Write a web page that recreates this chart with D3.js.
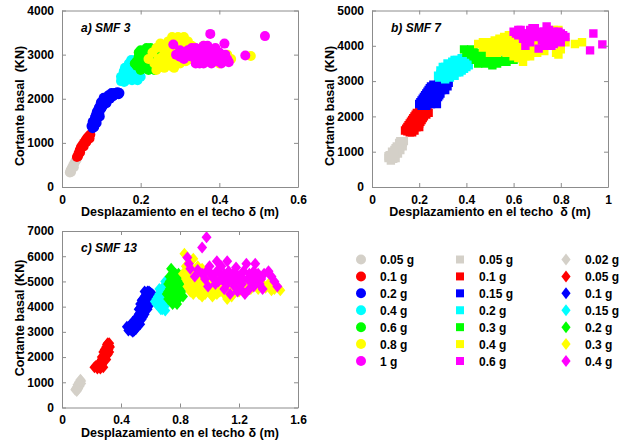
<!DOCTYPE html>
<html>
<head>
<meta charset="utf-8">
<script src="https://cdn.jsdelivr.net/npm/d3@7"></script>
<style>
  html, body { margin: 0; padding: 0; background: #fff; }
  text { font-family: Arial, "Liberation Sans", sans-serif; font-weight: bold; fill: #000; }
</style>
</head>
<body>
<svg id="fig" width="630" height="444"></svg>
<script>
// ---------- SMF 3 (circles) : [desplazamiento (m), cortante (kN)] ----------
const smf3_005 = [[0.020,330],[0.023,340],[0.022,380],[0.025,430],[0.028,480],[0.030,450],[0.031,530],[0.034,580],[0.037,620]];
const smf3_01 = [[0.038,680],[0.041,700],[0.042,760],[0.046,780],[0.045,830],[0.048,900],[0.055,920],[0.052,950],[0.056,1000],[0.062,1020],[0.060,1060],[0.070,1100],[0.064,1110],[0.068,1150],[0.072,1190]];
const smf3_02 = [[0.078,1330],[0.080,1430],[0.085,1500],[0.083,1520],[0.086,1620],[0.092,1620],[0.095,1680],[0.090,1720],[0.100,1780],[0.094,1800],[0.105,1850],[0.098,1870],[0.103,1930],[0.112,1950],[0.108,1980],[0.122,2000],[0.114,2030],[0.130,2060],[0.120,2070],[0.127,2100],[0.134,2130],[0.141,2150],[0.146,2130],
  [0.075,1380],[0.082,1360],[0.088,1450],[0.078,1480],[0.090,1560],[0.084,1580],[0.096,1600],[0.088,1680],[0.097,1760],[0.093,1760],[0.102,1820],[0.099,1920],[0.107,1900],[0.111,2000],[0.116,1990],[0.118,2080],[0.124,2040],[0.126,2130],[0.133,2090],[0.138,2110],[0.144,2100],[0.106,2020],[0.113,1900]];
const smf3_04 = [[0.155,2450],[0.160,2550],[0.165,2480],[0.172,2500],[0.178,2420],[0.170,2600],[0.168,2700],[0.175,2700],[0.182,2550],[0.185,2650],[0.180,2800],[0.190,2750],[0.195,2600],[0.200,2500],
  [0.150,2400],[0.158,2380],[0.163,2420],[0.150,2500],[0.157,2620],[0.163,2650],[0.170,2800],[0.176,2880],[0.185,2870],[0.188,2500],[0.192,2420],[0.167,2560],[0.160,2700]];
const smf3_06 = [[0.185,2800],[0.190,2750],[0.200,2850],[0.195,2950],[0.210,2950],[0.220,3050],[0.200,3100],[0.215,3150],[0.210,2700],[0.220,2650],[0.225,2800],[0.230,2700],[0.235,2900],[0.240,3000],[0.245,2750],[0.250,2850],
  [0.205,3000],[0.213,3100],[0.225,3150],[0.230,3100],[0.190,2850],[0.200,2650],[0.215,2800],[0.230,2900],[0.240,2850],[0.220,2950],[0.195,3050],[0.235,2650]];
const smf3_08 = [[0.220,2900],[0.230,3050],[0.240,3150],[0.250,3250],[0.260,3100],[0.270,3300],[0.280,3400],[0.290,3200],[0.300,3350],[0.310,3400],[0.320,3300],[0.330,3200],[0.250,2800],[0.260,2700],[0.270,2900],[0.280,3000],[0.290,2850],[0.300,2800],[0.310,2950],[0.330,3000],[0.350,2900],[0.370,2850],[0.390,2900],[0.410,2850],[0.420,3000],[0.400,2800],[0.480,2970],[0.240,2650],[0.340,3100],[0.360,3200],[0.380,3100],[0.290,3100],[0.260,3000],
  [0.255,3180],[0.275,3200],[0.285,3300],[0.295,3400],[0.305,3300],[0.315,3250],[0.325,3150],[0.255,2950],[0.265,2850],[0.275,2750],[0.285,2700],[0.295,2950],[0.305,3100],[0.315,2850],[0.325,2900],[0.345,2850],[0.360,2850],[0.380,2900],[0.400,2950],[0.430,2900],[0.270,3050],[0.245,2900],[0.235,2800]];
const smf3_1 = [[0.283,3230],[0.290,3000],[0.300,2950],[0.310,3050],[0.320,3100],[0.330,2950],[0.340,3150],[0.350,3050],[0.360,2900],[0.370,3000],[0.380,3100],[0.390,2950],[0.400,3050],[0.410,2900],[0.350,2800],[0.370,2850],[0.340,2900],[0.320,2980],[0.360,3200],[0.390,3080],[0.377,3470],[0.516,3420],[0.413,3250],[0.466,2980],[0.424,2830],[0.405,2800],[0.330,3150],[0.345,3020],[0.380,2800],[0.395,2850],
  [0.300,3100],[0.310,2900],[0.325,3050],[0.335,3050],[0.345,3100],[0.355,2950],[0.365,3100],[0.375,2950],[0.385,3000],[0.355,3150],[0.370,3200],[0.400,2950],[0.415,3000],[0.360,2800],[0.340,2800],[0.390,3150],[0.420,2900]];

// ---------- SMF 7 (squares) ----------
const smf7_005 = [[0.070,820],[0.090,800],[0.080,850],[0.090,900],[0.075,900],[0.100,950],[0.085,1000],[0.095,1050],[0.110,1050],[0.100,1100],[0.120,1150],[0.105,1150],[0.125,1200],[0.130,1250],[0.115,1250],
  [0.080,750],[0.100,820],[0.110,950],[0.120,1050],[0.130,1150],[0.135,1300],[0.120,1300],[0.085,920],[0.070,870],[0.105,1000],[0.115,1100],[0.095,980]];
const smf7_01 = [[0.160,1550],[0.150,1580],[0.140,1600],[0.180,1600],[0.170,1650],[0.150,1700],[0.190,1700],[0.160,1800],[0.200,1800],[0.180,1800],[0.170,1900],[0.210,1900],[0.180,2000],[0.200,2000],[0.220,2000],[0.230,2050],[0.190,2100],[0.240,2100],[0.200,2150],[0.220,2150],
  [0.145,1650],[0.155,1750],[0.165,1850],[0.175,1950],[0.185,2050],[0.210,2100],[0.225,2100],[0.210,2000],[0.190,1900],[0.165,1700],[0.200,1700],[0.170,1550],[0.190,1800],[0.205,1850],[0.215,1950],[0.235,2150],[0.175,1750],[0.155,1630],[0.185,1700],[0.195,2000]];
const smf7_015 = [[0.230,2300],[0.200,2350],[0.220,2350],[0.250,2350],[0.210,2450],[0.270,2450],[0.240,2500],[0.220,2550],[0.280,2550],[0.260,2600],[0.230,2650],[0.290,2650],[0.240,2750],[0.270,2750],[0.310,2750],[0.300,2800],[0.250,2850],[0.320,2850],[0.260,2900],[0.280,2900],[0.300,2900],
  [0.205,2400],[0.215,2500],[0.225,2600],[0.235,2700],[0.245,2800],[0.255,2750],[0.265,2850],[0.285,2800],[0.295,2750],[0.305,2850],[0.315,2900],[0.260,2700],[0.250,2650],[0.270,2650],[0.280,2700],[0.245,2600],[0.235,2500],[0.230,2400],[0.255,2450],[0.265,2550],[0.285,2600],[0.275,2350],[0.240,2380],[0.210,2300],[0.290,2850],[0.325,2950]];
const smf7_02 = [[0.310,3050],[0.330,3100],[0.280,3150],[0.300,3150],[0.350,3150],[0.330,3200],[0.370,3250],[0.290,3300],[0.320,3300],[0.350,3300],[0.390,3350],[0.300,3400],[0.340,3400],[0.360,3400],[0.380,3450],[0.410,3450],[0.320,3500],[0.340,3550],[0.360,3600],[0.400,3600],[0.380,3650],
  [0.290,3200],[0.310,3250],[0.310,3400],[0.330,3450],[0.350,3500],[0.370,3550],[0.390,3550],[0.400,3500],[0.410,3550],[0.390,3450],[0.370,3350],[0.360,3250],[0.340,3250],[0.320,3150],[0.300,3250],[0.285,3100],[0.350,3600],[0.330,3350],[0.380,3300],[0.400,3400],[0.370,3450],[0.360,3500],[0.340,3150],[0.310,3100]];
const smf7_03 = [[0.390,3900],[0.400,3800],[0.420,3750],[0.430,3850],[0.440,3600],[0.450,3500],[0.470,3550],[0.480,3700],[0.460,3800],[0.440,3700],[0.500,3600],[0.510,3450],[0.530,3500],[0.550,3600],[0.570,3550],[0.590,3650],[0.610,3650],[0.490,3900],[0.520,3700],
  [0.410,3850],[0.420,3900],[0.450,3650],[0.460,3600],[0.470,3700],[0.490,3600],[0.520,3550],[0.540,3550],[0.560,3600],[0.580,3650],[0.600,3600],[0.480,3500],[0.430,3700]];
const smf7_04 = [[0.450,4050],[0.480,4100],[0.500,4000],[0.520,4150],[0.540,4200],[0.560,4250],[0.580,4300],[0.600,4200],[0.550,3900],[0.570,3800],[0.600,3700],[0.620,3650],[0.640,3550],[0.530,3800],[0.580,4000],[0.620,4000],[0.650,3700],[0.680,3900],[0.700,4100],[0.720,4300],[0.750,4400],[0.770,4450],[0.780,3800],[0.800,3900],[0.820,4100],[0.860,4050],[0.890,4100],[0.790,3750],[0.730,3850],[0.760,4100],[0.660,4000],[0.500,3800],[0.470,3950],
  [0.470,4100],[0.490,4050],[0.510,4100],[0.530,4100],[0.550,4150],[0.570,4200],[0.590,4150],[0.610,4100],[0.630,4050],[0.520,3950],[0.540,3850],[0.560,3950],[0.590,3850],[0.610,3850],[0.630,3800],[0.550,4050],[0.570,4050],[0.600,4000],[0.640,3900],[0.660,3850],[0.670,3700],[0.700,3800],[0.720,4000],[0.740,4200],[0.760,4300],[0.780,4350],[0.790,4450],[0.710,4200],[0.690,4050]];
const smf7_06 = [[0.600,4400],[0.620,4300],[0.630,4450],[0.650,4200],[0.660,4350],[0.670,4100],[0.680,4300],[0.690,4500],[0.700,4250],[0.710,4400],[0.720,4150],[0.730,4000],[0.740,4550],[0.750,4200],[0.760,4350],[0.770,4050],[0.780,4250],[0.790,4400],[0.800,4100],[0.810,4300],[0.706,3920],[0.650,4000],[0.938,4350],[0.976,4040],[0.924,3870],[0.680,4500],[0.760,4000],[0.820,4250],
  [0.610,4350],[0.620,4450],[0.640,4350],[0.660,4250],[0.670,4450],[0.690,4350],[0.710,4300],[0.730,4400],[0.750,4450],[0.770,4400],[0.790,4250],[0.800,4350],[0.740,4100],[0.720,4250],[0.640,4200]];

// ---------- SMF 13 (diamonds) ----------
const smf13_002 = [[0.090,700],[0.100,650],[0.100,800],[0.110,900],[0.120,850],[0.120,1000],[0.130,950],[0.130,1050],
  [0.095,750],[0.105,900],[0.115,1000],[0.125,1100],[0.110,750],[0.120,950],[0.105,700]];
const smf13_005 = [[0.220,1600],[0.240,1550],[0.260,1550],[0.280,1600],[0.250,1700],[0.270,1700],[0.260,1800],[0.270,1900],[0.300,1900],[0.280,2000],[0.300,2050],[0.290,2100],[0.300,2200],[0.320,2200],[0.290,2300],[0.310,2350],[0.320,2450],[0.310,2550],
  [0.230,1650],[0.245,1650],[0.255,1750],[0.265,1850],[0.275,1950],[0.285,2050],[0.295,2150],[0.305,2250],[0.315,2300],[0.325,2400],[0.320,2550],[0.280,1800],[0.290,1900],[0.260,1650],[0.270,2000],[0.280,2200],[0.300,2400],[0.310,2100],[0.305,2500]];
const smf13_01 = [[0.480,3000],[0.460,3100],[0.500,3100],[0.440,3200],[0.520,3300],[0.470,3300],[0.510,3300],[0.500,3500],[0.540,3500],[0.520,3700],[0.560,3700],[0.540,3900],[0.580,3900],[0.550,4000],[0.530,4100],[0.600,4100],[0.570,4200],[0.550,4300],[0.620,4300],[0.590,4400],[0.570,4500],[0.610,4500],[0.590,4600],
  [0.450,3050],[0.470,3050],[0.490,3200],[0.460,3250],[0.480,3400],[0.500,3300],[0.510,3450],[0.520,3600],[0.530,3750],[0.550,3800],[0.530,3950],[0.560,3950],[0.550,4150],[0.540,4250],[0.560,4400],[0.580,4300],[0.600,4300],[0.600,4550],[0.580,4600],[0.610,4400],[0.570,4050],[0.590,4100],[0.510,3600],[0.490,3050],[0.530,3300],[0.550,3600],[0.520,3900],[0.560,4600],[0.620,4450]];
const smf13_015 = [[0.680,3900],[0.660,4000],[0.710,4100],[0.630,4200],[0.700,4300],[0.640,4300],[0.650,4400],[0.680,4400],[0.670,4600],[0.660,4700],[0.690,4800],[0.700,5000],
  [0.640,4100],[0.650,4200],[0.670,4200],[0.690,4100],[0.690,4500],[0.680,4700],[0.700,4700],[0.710,4900],[0.670,3900],[0.700,3850],[0.660,4500],[0.720,4300]];
const smf13_02 = [[0.750,4100],[0.780,4100],[0.740,4300],[0.770,4300],[0.820,4400],[0.710,4500],[0.800,4500],[0.780,4600],[0.730,4700],[0.760,4700],[0.810,4800],[0.720,4900],[0.790,4900],[0.750,5000],[0.730,5200],[0.800,5200],[0.770,5300],[0.740,5500],
  [0.720,4300],[0.720,4600],[0.740,4800],[0.750,5300],[0.760,4450],[0.760,5100],[0.780,4800],[0.790,4300],[0.800,5000],[0.770,4900],[0.730,5000],[0.760,4200],[0.810,4600],[0.790,5300],[0.750,4600]];
const smf13_03 = [[0.830,6100],[0.850,5000],[0.860,5400],[0.880,4800],[0.900,5200],[0.920,5600],[0.930,4500],[0.950,4400],[0.960,4800],[0.980,5000],[1.000,4600],[1.020,4400],[1.050,4500],[1.080,4800],[1.100,4500],[1.120,4300],[1.150,4700],[1.200,4600],[1.250,4800],[1.300,4900],[1.350,4800],[1.400,4900],[1.450,4800],[1.480,4650],[0.840,5600],[0.890,5900],[0.950,5500],[0.990,5300],[1.050,5100],[1.180,4900],[1.220,5000],[0.870,4600],[0.910,4900],[0.940,5200],[1.060,4800],[1.280,4700],[1.380,4750],[1.020,5000],[0.820,5300],[0.970,4500],[1.330,4700],[1.420,4650],[1.150,4400],
  [0.840,5100],[0.860,5200],[0.880,5300],[0.900,5000],[0.920,4700],[0.930,5000],[0.960,5100],[0.980,4700],[1.000,4900],[1.040,4700],[1.070,4600],[1.120,4700],[1.160,4600],[1.240,4600],[1.320,4850],[1.360,4900],[1.440,4700],[0.890,4500],[0.940,4800],[0.880,5500],[0.910,5400],[1.010,4500],[1.100,4900],[1.270,4900],[0.850,4800]];
const smf13_04 = [[0.980,6750],[0.950,6350],[0.850,5950],[0.860,5700],[0.870,5500],[0.900,5200],[0.920,5450],[0.950,5300],[0.970,5100],[1.000,5600],[1.020,5200],[1.040,4900],[1.050,5800],[1.070,5300],[1.090,5050],[1.100,4700],[1.120,5800],[1.130,5400],[1.150,5100],[1.170,4800],[1.180,5550],[1.200,5200],[1.220,4900],[1.240,4500],[1.250,5700],[1.270,5300],[1.280,5000],[1.300,4800],[1.310,5700],[1.330,5300],[1.350,5100],[1.360,4700],[1.400,5400],[1.440,5000],[1.460,4800],[1.140,4500],[1.190,4600],[0.990,4800],[1.080,5600],[1.230,5400],[1.160,5300],
  [0.980,5400],[1.010,5300],[1.030,5100],[1.050,5400],[1.060,5000],[1.080,5100],[1.100,5300],[1.110,5100],[1.140,5200],[1.160,5000],[1.190,5100],[1.210,5000],[1.230,5100],[1.260,5100],[1.290,5200],[1.320,5000],[1.340,4900],[1.270,4700],[1.210,4700],[1.120,4900],[1.180,5300],[1.300,5400],[1.370,5300],[1.420,5200]];

// ---------- legend labels and ticks ----------
const smf3Labels  = ["0.05 g","0.1 g","0.2 g","0.4 g","0.6 g","0.8 g","1 g"];
const smf7Labels  = ["0.05 g","0.1 g","0.15 g","0.2 g","0.3 g","0.4 g","0.6 g"];
const smf13Labels = ["0.02 g","0.05 g","0.1 g","0.15 g","0.2 g","0.3 g","0.4 g"];
const seriesColors = ["#d4d0c8","#ff0000","#0000ff","#00ffff","#00ff00","#ffff00","#ff00ff"];
const smf3XTicks = [0, 0.2, 0.4, 0.6];
const smf3YTicks = [0, 1000, 2000, 3000, 4000];
const smf7XTicks = [0, 0.2, 0.4, 0.6, 0.8, 1];
const smf7YTicks = [0, 1000, 2000, 3000, 4000, 5000];
const smf13XTicks = [0, 0.4, 0.8, 1.2, 1.6];
const smf13YTicks = [0, 1000, 2000, 3000, 4000, 5000, 6000, 7000];

const svg = d3.select("#fig");

// marker path generators (centred on 0,0)
const circlePath  = d3.symbol().type(d3.symbolCircle).size(Math.PI * 5 * 5)();
const squarePath  = "M-4.2,-4.2H4.2V4.2H-4.2Z";
const diamondPath = "M0,-6L5,0L0,6L-5,0Z";

const panels = [
  { title: "a) SMF 3", x0: 62, x1: 298, y0: 10.5, y1: 187, xMax: 0.6, yMax: 4000,
    xTicks: smf3XTicks, yTicks: smf3YTicks, xFmt: d3.format(".1~f"),
    series: [smf3_005, smf3_01, smf3_02, smf3_04, smf3_06, smf3_08, smf3_1], marker: circlePath,
    ylab: "Cortante basal  (KN)", xlab: "Desplazamiento en el techo \u03b4 (m)", ylabY: 106, ylabX: 24 },
  { title: "b) SMF 7", x0: 372, x1: 608, y0: 10.5, y1: 187, xMax: 1, yMax: 5000,
    xTicks: smf7XTicks, yTicks: smf7YTicks, xFmt: d3.format(".1~f"),
    series: [smf7_005, smf7_01, smf7_015, smf7_02, smf7_03, smf7_04, smf7_06], marker: squarePath,
    ylab: "Cortante basal  (KN)", xlab: "Desplazamiento en el techo  \u03b4 (m)", ylabY: 106, ylabX: 334 },
  { title: "c) SMF 13", x0: 62, x1: 298, y0: 231, y1: 407.5, xMax: 1.6, yMax: 7000,
    xTicks: smf13XTicks, yTicks: smf13YTicks, xFmt: d3.format(".1~f"),
    series: [smf13_002, smf13_005, smf13_01, smf13_015, smf13_02, smf13_03, smf13_04], marker: diamondPath,
    ylab: "Cortante basal (KN)", xlab: "Desplazamiento en el techo \u03b4 (m)", ylabY: 318, ylabX: 24 }
];

panels.forEach((p, pi) => {
  const x = d3.scaleLinear().domain([0, p.xMax]).range([p.x0, p.x1]);
  const y = d3.scaleLinear().domain([0, p.yMax]).range([p.y1, p.y0]);
  const clipId = "clip" + pi;
  svg.append("clipPath").attr("id", clipId)
    .append("rect").attr("x", p.x0).attr("y", p.y0).attr("width", p.x1 - p.x0).attr("height", p.y1 - p.y0);

  const g = svg.append("g");
  const plot = g.append("g").attr("clip-path", `url(#${clipId})`);
  p.series.forEach((pts, si) => {
    plot.append("g").selectAll("path").data(pts).join("path")
      .attr("d", p.marker)
      .attr("transform", d => `translate(${x(d[0])},${y(d[1])})`)
      .attr("fill", seriesColors[si]);
  });

  // axes with inward ticks on all four sides
  const frame = "#8c8c8c";
  const bottom = g.append("g").attr("transform", `translate(0,${p.y1})`)
    .call(d3.axisBottom(x).tickValues(p.xTicks).tickSizeInner(-4).tickSizeOuter(0).tickPadding(8).tickFormat(p.xFmt));
  const top = g.append("g").attr("transform", `translate(0,${p.y0})`)
    .call(d3.axisTop(x).tickValues(p.xTicks).tickSizeInner(-4).tickSizeOuter(0).tickFormat(""));
  const left = g.append("g").attr("transform", `translate(${p.x0},0)`)
    .call(d3.axisLeft(y).tickValues(p.yTicks).tickSizeInner(-4).tickSizeOuter(0).tickPadding(8).tickFormat(d3.format("d")));
  const right = g.append("g").attr("transform", `translate(${p.x1},0)`)
    .call(d3.axisRight(y).tickValues(p.yTicks).tickSizeInner(-4).tickSizeOuter(0).tickFormat(""));
  [bottom, top, left, right].forEach(a => {
    a.select(".domain").attr("stroke", frame).attr("stroke-width", 1);
    a.selectAll(".tick line").attr("stroke", frame);
    a.selectAll("text").attr("font-size", 12).attr("font-family", "Arial, 'Liberation Sans', sans-serif")
      .attr("font-weight", "bold").attr("fill", "#000");
  });

  g.append("text").attr("x", p.x0 + 19).attr("y", p.y0 + 21)
    .attr("font-size", 12).attr("font-style", "italic").text(p.title);

  g.append("text").attr("x", (p.x0 + p.x1) / 2).attr("y", p.y1 + 29)
    .attr("text-anchor", "middle").attr("font-size", 12.5).style("white-space", "pre").text(p.xlab);

  g.append("text").attr("transform", `translate(${p.ylabX},${p.ylabY}) rotate(-90)`)
    .attr("text-anchor", "middle").attr("font-size", 12.5).style("white-space", "pre").text(p.ylab);
});

// ---------- legend: three columns ----------
const legendCols = [
  { labels: smf3Labels,  marker: d3.symbol().type(d3.symbolCircle).size(Math.PI * 5 * 5)(), mx: 361, tx: 380 },
  { labels: smf7Labels,  marker: "M-4,-4H4V4H-4Z", mx: 460, tx: 479 },
  { labels: smf13Labels, marker: "M0,-6L4.6,0L0,6L-4.6,0Z", mx: 566, tx: 585 }
];
const legendRowY = d3.scaleLinear().domain([0, 6]).range([259.5, 361]);
legendCols.forEach(col => {
  const lg = svg.append("g");
  col.labels.forEach((lab, i) => {
    lg.append("path").attr("d", col.marker)
      .attr("transform", `translate(${col.mx},${legendRowY(i)})`)
      .attr("fill", seriesColors[i]);
    lg.append("text").attr("x", col.tx).attr("y", legendRowY(i) + 4.5)
      .attr("font-size", 12).text(lab);
  });
});
</script>
</body>
</html>
